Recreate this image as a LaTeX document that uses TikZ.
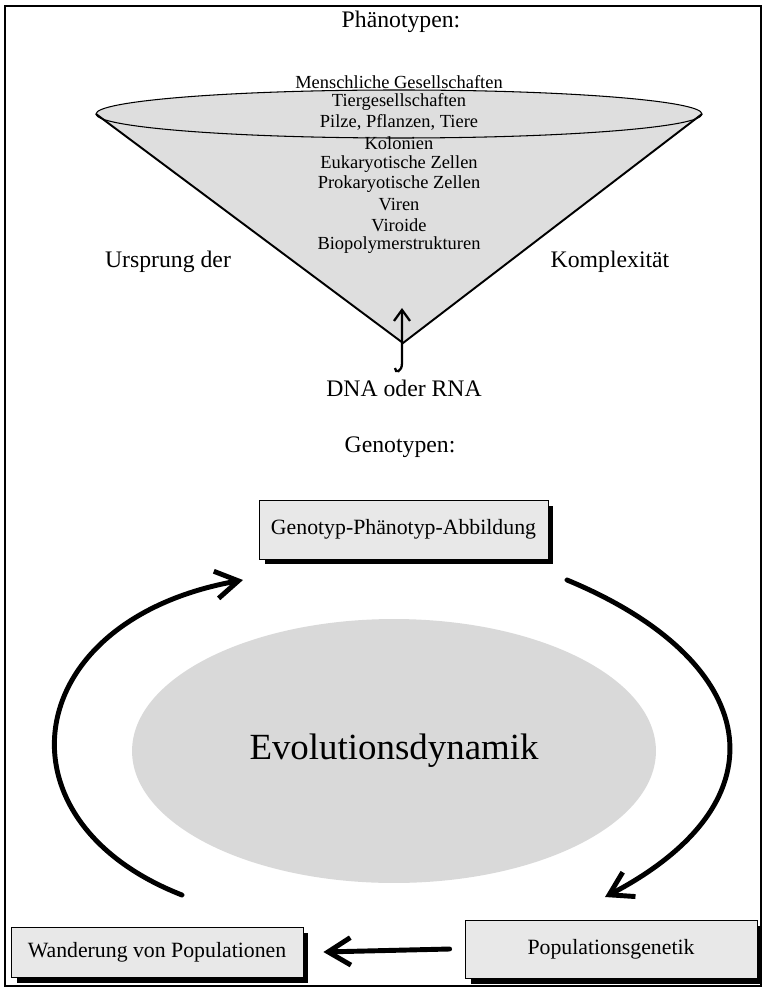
\documentclass[tikz,border=0pt]{standalone}
\usepackage{fontspec}
\setmainfont{Liberation Serif}
\usetikzlibrary{arrows.meta,shapes.geometric,shadows}

\begin{document}
\begin{tikzpicture}[x=0.02cm, y=-0.02cm,
    title/.style={font=\fontsize{13.5}{16}\selectfont},
    level/.style={font=\fontsize{10.5}{12}\selectfont, inner sep=0pt},
    mapbox/.style={draw, line width=0.5pt, fill=black!9, inner sep=0pt,
      font=\fontsize{12.4}{15}\selectfont,
      drop shadow={shadow xshift=1.1mm, shadow yshift=-1.1mm, fill=black, opacity=1}},
    cycle arrow/.style={line width=2.8pt, line cap=round,
      -{Straight Barb[length=4.5mm,width=5.5mm]}}]

    \useasboundingbox (0,0) rectangle (764,989);
    \draw[line width=0.9pt] (5,6) rectangle (761,986);

    % Kegel der Komplexitaet
    \coordinate (apex) at (403,343);
    \coordinate (rimL) at (96,114);
    \coordinate (rimR) at (702,114);
    \fill[black!13] (rimL) -- (apex) -- (rimR) -- cycle;
    \draw[fill=black!13, line width=0.6pt] (399,114) ellipse [x radius=303, y radius=24];
    \draw[line width=1.1pt] (rimL) -- (apex) -- (rimR);

    \node[title] (pheno) at (401,22) {Phänotypen:};
    \foreach \txt [count=\i] in {Menschliche Gesellschaften, Tiergesellschaften,
        {Pilze, Pflanzen, Tiere}, Kolonien, Eukaryotische Zellen,
        Prokaryotische Zellen, Viren, Viroide, Biopolymerstrukturen}
      \node[level] (lvl\i) at (399,61.6+20.4*\i) {\txt};
    \node[title] (origin) at (168,262) {Ursprung der};
    \node[title] (complex) at (610,262) {Komplexität};

    % Pfeil aus der Spitze
    \coordinate (tip) at (402,308);
    \coordinate (stem) at (402,363);
    \coordinate (hook) at (395,368);
    \draw[line width=1.3pt, {Straight Barb[length=2.2mm,width=3.2mm]}-]
      (tip) -- (stem) .. controls (402,372) and (395,374) .. (hook);

    \node[title] (dna) at (404,388) {DNA oder RNA};
    \node[title] (geno) at (400,447) {Genotypen:};

    % Kreislauf
    \node[ellipse, fill=black!15, minimum width=10.48cm, minimum height=5.28cm,
      font=\fontsize{21}{25}\selectfont] (evo) at (394,751) {Evolutionsdynamik};

    \node[mapbox, minimum width=5.78cm, minimum height=1.18cm] (map) at (403.5,529.5) {Genotyp-Phänotyp-Abbildung};
    \node[mapbox, minimum width=5.84cm, minimum height=1cm] (migr) at (157,952) {Wanderung von Populationen};
    \node[mapbox, minimum width=5.84cm, minimum height=1.16cm] (popgen) at (611,949) {Populationsgenetik};

    \coordinate (r0) at (567,580);
    \coordinate (r1) at (605,897);
    \coordinate (l0) at (182,895);
    \coordinate (l1) at (243,580);
    \draw[cycle arrow] (r0) .. controls (760,660) and (790,800) .. (r1);
    \draw[cycle arrow] ([xshift=-3mm]popgen.west) -- ([xshift=4mm]migr.east);
    \draw[cycle arrow] (l0) .. controls (-10,820) and (20,620) .. (l1);

\end{tikzpicture}
\end{document}
